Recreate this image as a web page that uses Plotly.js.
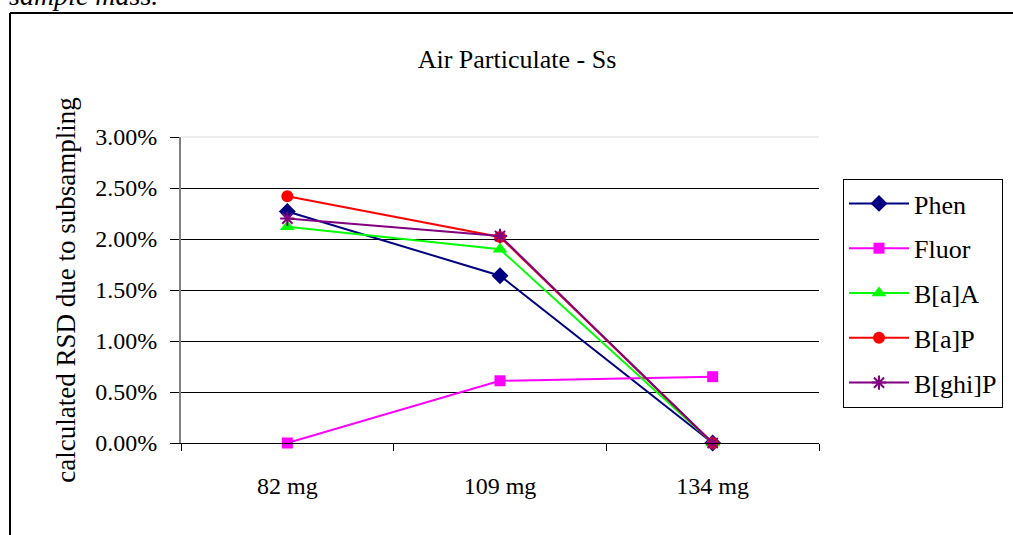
<!DOCTYPE html>
<html>
<head>
<meta charset="utf-8">
<script src="https://cdn.plot.ly/plotly-3.0.1.min.js"></script>
<style>
  html, body { margin: 0; padding: 0; background: #fff; }
  #chart { width: 1013px; height: 535px; }
</style>
</head>
<body>
<div id="chart"></div>
<script>
// Sample masses on the category axis
const masses = ['82 mg', '109 mg', '134 mg'];

// Calculated RSD (fraction) for each compound
const phen  = [0.0227, 0.0164, 0.0000];
const fluor = [0.0000, 0.0061, 0.0065];
const baa   = [0.0212, 0.0190, 0.0000];
const bap   = [0.0242, 0.0202, 0.0000];
const bghip = [0.0220, 0.0203, 0.0000];

const seriesNames = ['Phen', 'Fluor', 'B[a]A', 'B[a]P', 'B[ghi]P'];
const yTicks = [0, 0.005, 0.01, 0.015, 0.02, 0.025, 0.03];

const FONT = '"Liberation Serif", "Times New Roman", serif';

function series(name, values, color, symbol, size, open) {
  return {
    type: 'scatter',
    mode: 'lines+markers',
    name: name,
    legendgroup: name,
    x: masses,
    y: values,
    cliponaxis: false,
    line: { color: color, width: 2 },
    marker: open
      ? { symbol: symbol, size: size, color: color, line: { color: color, width: 2 } }
      : { symbol: symbol, size: size, color: color, line: { width: 0 } }
  };
}

const data = [
  series(seriesNames[0], phen,  '#000080', 'diamond',       13, false),
  series(seriesNames[1], fluor, '#FF00FF', 'square',        11, false),
  series(seriesNames[2], baa,   '#00FF00', 'triangle-up',   13, false),
  series(seriesNames[3], bap,   '#FF0000', 'circle',        12, false),
  series(seriesNames[4], bghip, '#800080', 'asterisk-open', 12, true)
];

// pixel helpers for the paper coordinate system (plot area 181..819 x 137..443)
const L = 181, R = 819, T = 137, B = 443;
const px = v => (v - L) / (R - L);
const py = v => (B - v) / (B - T);

const layout = {
  width: 1013,
  height: 535,
  margin: { l: L, r: 1013 - R, t: T, b: 535 - B, pad: 0, autoexpand: false },
  paper_bgcolor: '#ffffff',
  plot_bgcolor: '#ffffff',
  font: { family: FONT, size: 24, color: '#000000' },
  title: {
    text: 'Air Particulate - Ss',
    font: { family: FONT, size: 26, color: '#000000' },
    xref: 'paper',
    x: px(517),
    xanchor: 'center',
    yref: 'container',
    y: 1 - 59 / 535,
    yanchor: 'middle'
  },
  xaxis: {
    type: 'category',
    range: [-0.5, masses.length - 0.5],
    tickson: 'boundaries',
    ticks: 'outside',
    ticklen: 7,
    tickwidth: 1,
    tickcolor: '#000000',
    ticklabelstandoff: 21,
    showgrid: false,
    showline: true,
    linecolor: '#000000',
    linewidth: 1,
    zeroline: false,
    tickfont: { family: FONT, size: 24, color: '#000000' },
    fixedrange: true
  },
  yaxis: {
    range: [0, 0.03],
    tickvals: yTicks,
    tickformat: '.2%',
    ticks: 'outside',
    ticklen: 9,
    tickwidth: 1,
    tickcolor: '#000000',
    ticklabelstandoff: 8,
    showline: true,
    linecolor: '#808080',
    linewidth: 2,
    showgrid: true,
    gridcolor: '#000000',
    gridwidth: 1,
    zeroline: false,
    tickfont: { family: FONT, size: 24, color: '#000000' },
    title: {
      text: 'calculated RSD due to subsampling',
      font: { family: FONT, size: 27, color: '#000000' },
      standoff: 12
    },
    fixedrange: true
  },
  showlegend: true,
  legend: {
    x: px(843),
    xanchor: 'left',
    y: py(179),
    yanchor: 'top',
    bgcolor: '#ffffff',
    bordercolor: '#000000',
    borderwidth: 1,
    font: { family: FONT, size: 26, color: '#000000' },
    tracegroupgap: 8,
    itemwidth: 60
  },
  shapes: [
    // light top edge of the plot area
    { type: 'line', xref: 'paper', yref: 'paper', x0: 0, x1: 1, y0: 1, y1: 1,
      line: { color: '#ececec', width: 2 }, layer: 'above' },
    // outer frame around the chart object
    { type: 'line', xref: 'paper', yref: 'paper', x0: px(10), x1: px(10), y0: py(13), y1: py(560),
      line: { color: '#000000', width: 2 } },
    { type: 'line', xref: 'paper', yref: 'paper', x0: px(10), x1: px(1040), y0: py(13), y1: py(13),
      line: { color: '#000000', width: 2 } }
  ],
  annotations: [
    {
      text: '<i>sample mass.</i>',
      xref: 'paper', yref: 'paper',
      x: px(7), xanchor: 'left',
      y: py(-5), yanchor: 'middle',
      showarrow: false,
      font: { family: FONT, size: 28, color: '#000000' }
    }
  ]
};

Plotly.newPlot('chart', data, layout, { displayModeBar: false, staticPlot: true });
</script>
</body>
</html>
